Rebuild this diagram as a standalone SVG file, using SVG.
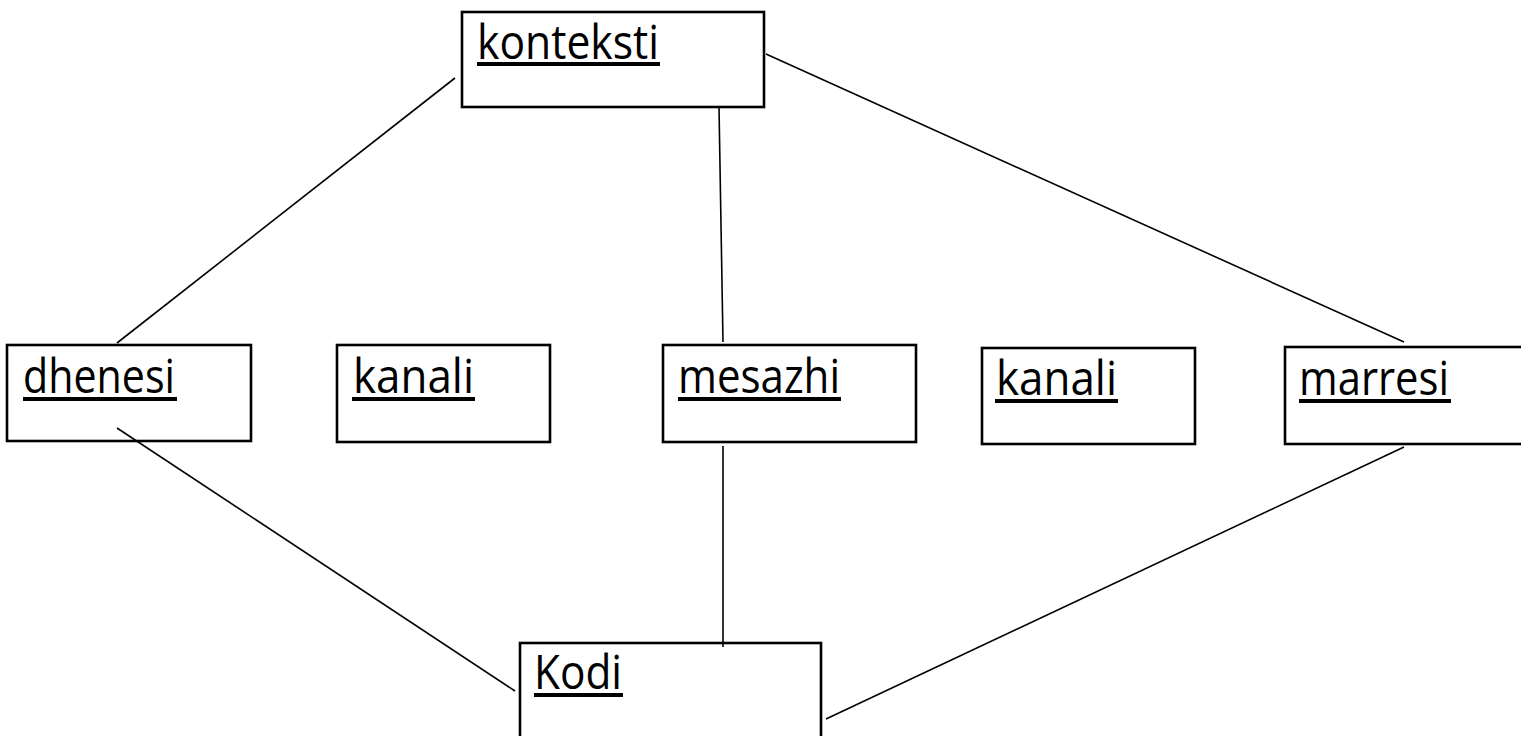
<svg xmlns="http://www.w3.org/2000/svg" width="1521" height="736" viewBox="0 0 1521 736">
<style>
.box{fill:#fff;stroke:#000;stroke-width:2.6}
.lbl{font-family:"Open Sans","DejaVu Sans",sans-serif;font-size:47px;fill:#000}
.ul{fill:#000}
.con line{stroke:#000;stroke-width:1.6}
</style>
<rect width="1521" height="736" fill="#fff"/>
<g id="kontekst">
<rect class="box" x="462" y="12" width="302" height="95"/>
<text class="lbl" x="477" y="59" textLength="182" lengthAdjust="spacingAndGlyphs">konteksti</text>
<rect class="ul" x="477" y="62" width="183" height="4"/>
</g>
<g id="dhenesi">
<rect class="box" x="7" y="345" width="244" height="96"/>
<text class="lbl" x="23" y="393" textLength="152" lengthAdjust="spacingAndGlyphs">dhenesi</text>
<rect class="ul" x="23" y="397" width="154" height="4"/>
</g>
<g id="kanali1">
<rect class="box" x="337" y="345" width="213" height="97"/>
<text class="lbl" x="353" y="393" textLength="121" lengthAdjust="spacingAndGlyphs">kanali</text>
<rect class="ul" x="352" y="397" width="123" height="4"/>
</g>
<g id="mesazhi">
<rect class="box" x="663" y="345" width="253" height="97"/>
<text class="lbl" x="678" y="393" textLength="162" lengthAdjust="spacingAndGlyphs">mesazhi</text>
<rect class="ul" x="678" y="397" width="163" height="4"/>
</g>
<g id="kanali2">
<rect class="box" x="982" y="348" width="213" height="96"/>
<text class="lbl" x="996" y="395" textLength="121" lengthAdjust="spacingAndGlyphs">kanali</text>
<rect class="ul" x="995" y="399" width="123" height="4"/>
</g>
<g id="marresi">
<rect class="box" x="1285" y="347" width="240" height="97"/>
<text class="lbl" x="1299" y="395" textLength="150" lengthAdjust="spacingAndGlyphs">marresi</text>
<rect class="ul" x="1299" y="399" width="152" height="4"/>
</g>
<g id="kodi">
<rect class="box" x="520" y="643" width="301" height="120"/>
<text class="lbl" x="534" y="689" textLength="88" lengthAdjust="spacingAndGlyphs">Kodi</text>
<rect class="ul" x="534" y="693" width="89" height="4"/>
</g>
<g class="con" id="connectors">
<line x1="455" y1="78" x2="117" y2="343"/>
<line x1="719" y1="107" x2="723" y2="342"/>
<line x1="766" y1="54" x2="1404" y2="342"/>
<line x1="117" y1="428" x2="515" y2="691"/>
<line x1="723" y1="446" x2="723" y2="647"/>
<line x1="1404" y1="447" x2="826" y2="719"/>
</g>
</svg>
